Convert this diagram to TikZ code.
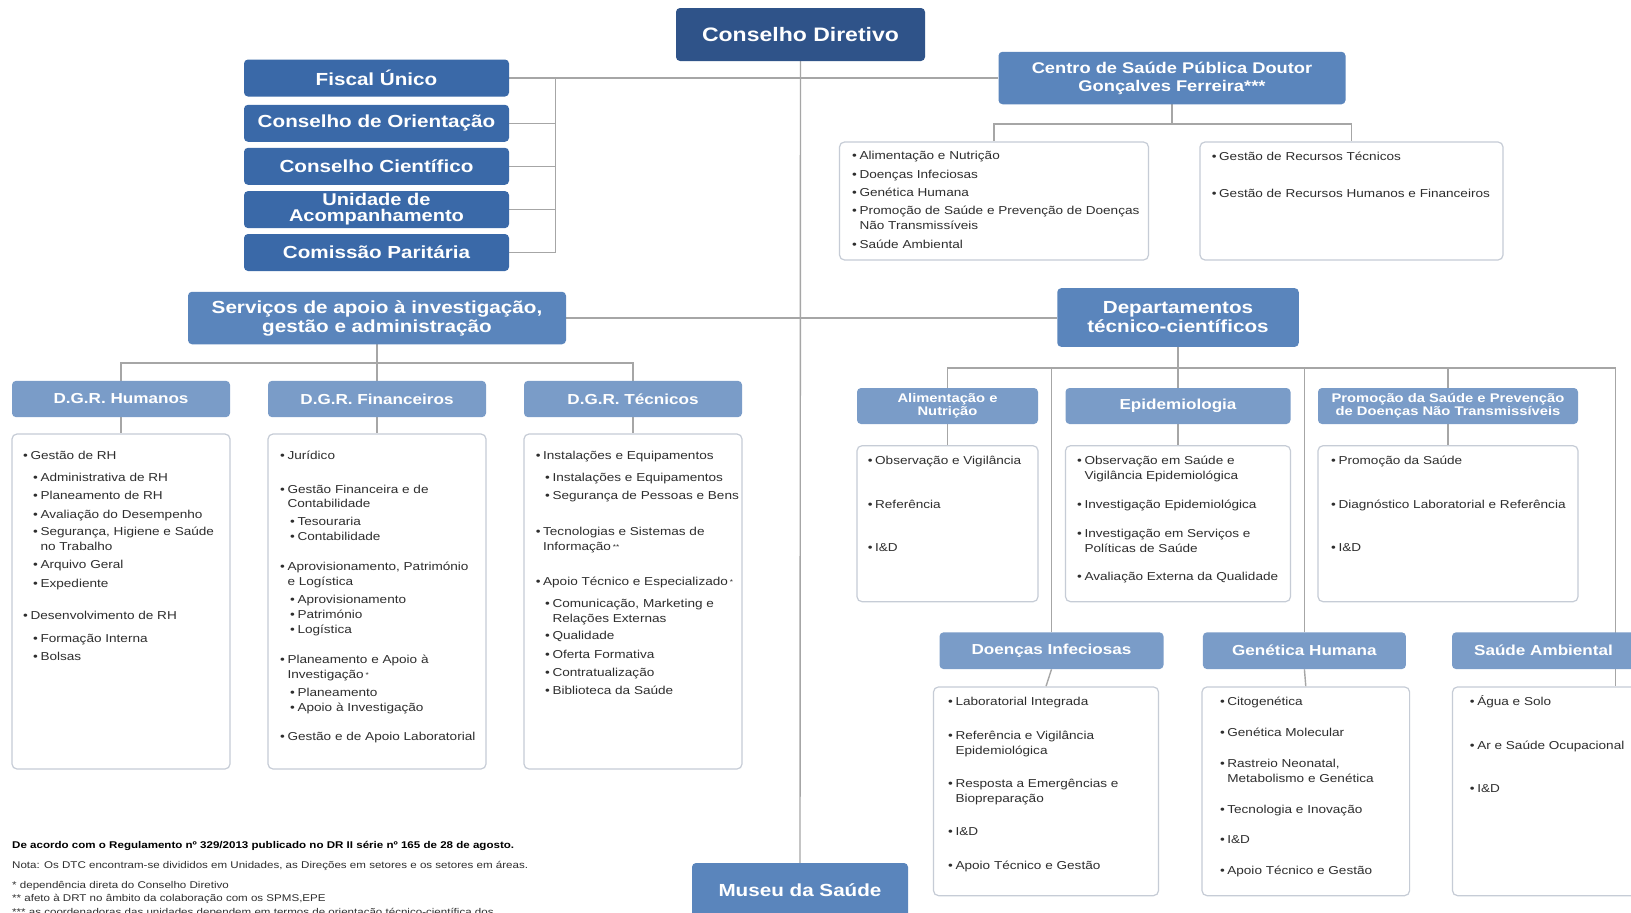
\documentclass[tikz,border=0pt]{standalone}
\usepackage{fontspec}
\setmainfont{Liberation Sans}[FakeStretch=1.18]
\usetikzlibrary{backgrounds}
\definecolor{cdark}{HTML}{2F5389}
\definecolor{cfis}{HTML}{3A69A8}
\definecolor{cmid}{HTML}{5A85BC}
\definecolor{clight}{HTML}{7A9CC8}
\definecolor{cbord}{HTML}{C6CCD6}
\definecolor{clin}{HTML}{A6A6A6}
\definecolor{ctext}{HTML}{2E2E2E}
\tikzset{
  hbox/.style={rounded corners=4pt, draw=none, text=white, align=center, inner sep=0pt},
  bdark/.style={hbox, fill=cdark},
  bfis/.style={hbox, fill=cfis, minimum width=265pt, minimum height=37pt, font=\bfseries\fontsize{17.5}{16}\selectfont},
  bmid/.style={hbox, fill=cmid},
  blight/.style={hbox, fill=clight},
  cbox/.style={rounded corners=5pt, draw=cbord, line width=1.2pt, fill=white, inner sep=0pt},
  conn/.style={draw=clin, line width=1.4pt},
  itm/.style={anchor=west, inner sep=0pt, text height=8.5pt, text depth=2.5pt, text=ctext, font=\fontsize{11.5}{13}\selectfont},
  fnote/.style={anchor=west, inner sep=0pt, text=ctext, font=\fontsize{9.8}{11}\selectfont},
}
\newcount\licnt
\newcommand\bli[3]{\global\advance\licnt by 1\relax\node[itm] (li\the\licnt) at (#1,#2) {•\hspace{2.6pt}#3};}
\newcommand\cli[3]{\global\advance\licnt by 1\relax\node[itm] (li\the\licnt) at (#1,#2) {\hphantom{•\hspace{2.6pt}}#3};}
\begin{document}
\begin{tikzpicture}[x=1pt,y=-1pt]
\useasboundingbox (0,0) rectangle (1631,913);
\begin{pgfonlayer}{background}
\fill[white] (0,0) rectangle (1631,913);
\end{pgfonlayer}

% ---------- top level ----------
\node[bdark, minimum width=249pt, minimum height=53pt, font=\bfseries\fontsize{19.5}{22}\selectfont] (cd) at (800.5,34.5) {Conselho Diretivo};

\node[bfis] (fu) at (376.5,78) {Fiscal Único};
\node[bfis] (co) at (376.5,123.3) {Conselho de Orientação};
\node[bfis] (cc) at (376.5,166.3) {Conselho Científico};
\node[bfis, font=\bfseries\fontsize{17}{16}\selectfont] (ua) at (376.5,209.6) {Unidade de\\Acompanhamento};
\node[bfis] (cp) at (376.5,252.5) {Comissão Paritária};

\node[bmid, minimum width=347pt, minimum height=52.5pt, font=\bfseries\fontsize{15.5}{18}\selectfont] (csp) at (1172,78) {Centro de Saúde Pública Doutor\\Gonçalves Ferreira***};
\node[cbox, minimum width=309pt, minimum height=118pt] (csl) at (994,201) {};
\node[cbox, minimum width=303pt, minimum height=118pt] (csr) at (1351.5,201) {};

\node[bmid, minimum width=378pt, minimum height=52.5pt, font=\bfseries\fontsize{17.5}{19}\selectfont] (sv) at (377,318) {Serviços de apoio à investigação,\\gestão e administração};
\node[bmid, minimum width=241.5pt, minimum height=58.7pt, font=\bfseries\fontsize{17.5}{19}\selectfont] (dtc) at (1178,317.5) {Departamentos\\técnico-científicos};

% ---------- D.G.R. ----------
\node[blight, minimum width=218pt, minimum height=36.3pt, font=\bfseries\fontsize{14.5}{16}\selectfont] (dgrh) at (121,399) {D.G.R. Humanos};
\node[blight, minimum width=218pt, minimum height=36.3pt, font=\bfseries\fontsize{14.5}{16}\selectfont] (dgrf) at (377,399) {D.G.R. Financeiros};
\node[blight, minimum width=218pt, minimum height=36.3pt, font=\bfseries\fontsize{14.5}{16}\selectfont] (dgrt) at (633,399) {D.G.R. Técnicos};
\node[cbox, minimum width=218pt, minimum height=335pt] (dgrhc) at (121,601.5) {};
\node[cbox, minimum width=218pt, minimum height=335pt] (dgrfc) at (377,601.5) {};
\node[cbox, minimum width=218pt, minimum height=335pt] (dgrtc) at (633,601.5) {};

% ---------- departments ----------
\node[blight, minimum width=181pt, minimum height=36pt, font=\bfseries\fontsize{12.5}{13}\selectfont] (an) at (947.5,406) {Alimentação e\\Nutrição};
\node[blight, minimum width=225pt, minimum height=36pt, font=\bfseries\fontsize{14.5}{16}\selectfont] (epi) at (1178,406) {Epidemiologia};
\node[blight, minimum width=260pt, minimum height=36pt, font=\bfseries\fontsize{12.5}{13}\selectfont] (prom) at (1448,406) {Promoção da Saúde e Prevenção\\de Doenças Não Transmissíveis};
\node[cbox, minimum width=181pt, minimum height=156pt] (anc) at (947.5,523.7) {};
\node[cbox, minimum width=225pt, minimum height=156pt] (epic) at (1178,523.7) {};
\node[cbox, minimum width=260pt, minimum height=156pt] (promc) at (1448,523.7) {};

\node[blight, minimum width=224pt, minimum height=36.7pt, font=\bfseries\fontsize{14.5}{16}\selectfont] (di) at (1051.5,650.7) {Doenças Infeciosas};
\node[blight, minimum width=203pt, minimum height=36.7pt, font=\bfseries\fontsize{14.5}{16}\selectfont] (gh) at (1304.4,650.7) {Genética Humana};
\node[blight, minimum width=183pt, minimum height=36.7pt, font=\bfseries\fontsize{14.5}{16}\selectfont] (sa) at (1543.5,650.7) {Saúde Ambiental};
\node[cbox, minimum width=225pt, minimum height=208.7pt] (dic) at (1046,791.3) {};
\node[cbox, minimum width=207.6pt, minimum height=208.7pt] (ghc) at (1305.8,791.3) {};
\node[cbox, minimum width=207pt, minimum height=208.7pt] (sac) at (1556,791.3) {};

\node[bmid, minimum width=216pt, minimum height=54pt, font=\bfseries\fontsize{17.5}{19}\selectfont] (museu) at (800,890) {Museu da Saúde};

% ---------- connectors ----------
\begin{pgfonlayer}{background}
\draw[conn] (cd.south) -- (museu.north);
\draw[conn] (fu.east) -- (csp.west);
\coordinate (bk1) at (555.4,78);
\coordinate (bk2) at (555.4,252.5);
\draw[conn] (bk1) -- (bk2);
\draw[conn] (co.east) -- (co.east -| bk1);
\draw[conn] (cc.east) -- (cc.east -| bk1);
\draw[conn] (ua.east) -- (ua.east -| bk1);
\draw[conn] (cp.east) -- (cp.east -| bk1);
\draw[conn] (sv.east) -- (sv.east -| dtc.west);
\coordinate (cspj) at (1172,124);
\draw[conn] (csp.south) -- (cspj);
\draw[conn] (csl.north) |- (cspj) -| (csr.north);
\coordinate (svj) at (377,363);
\draw[conn] (sv.south) -- (svj);
\draw[conn] (dgrh.north) |- (svj) -| (dgrt.north);
\draw[conn] (svj) -- (dgrf.north);
\draw[conn] (dgrh.south) -- (dgrhc.north);
\draw[conn] (dgrf.south) -- (dgrfc.north);
\draw[conn] (dgrt.south) -- (dgrtc.north);
\coordinate (dj) at (1178,368);
\coordinate (dr) at (1615.6,368);
\draw[conn] (dtc.south) -- (epi.north);
\draw[conn] (an.north) |- (dj) -- (dr) -- (dr |- sac.north);
\draw[conn] (di.north) -- (di.north |- dj);
\draw[conn] (gh.north) -- (gh.north |- dj);
\draw[conn] (prom.north) -- (prom.north |- dj);
\draw[conn] (an.south) -- (anc.north);
\draw[conn] (epi.south) -- (epic.north);
\draw[conn] (prom.south) -- (promc.north);
\draw[conn] (di.south) -- (dic.north);
\draw[conn] (gh.south) -- (ghc.north);
\end{pgfonlayer}

% ---------- Centro contents ----------
\bli{852}{156.7}{Alimentação e Nutrição}
\bli{852}{175}{Doenças Infeciosas}
\bli{852}{193.3}{Genética Humana}
\bli{852}{211.7}{Promoção de Saúde e Prevenção de Doenças}
\cli{852}{226.7}{Não Transmissíveis}
\bli{852}{245}{Saúde Ambiental}
\bli{1211.6}{157.3}{Gestão de Recursos Técnicos}
\bli{1211.6}{194}{Gestão de Recursos Humanos e Financeiros}

% ---------- D.G.R. Humanos ----------
\bli{23}{456.7}{Gestão de RH}
\bli{33}{478.7}{Administrativa de RH}
\bli{33}{496.7}{Planeamento de RH}
\bli{33}{515}{Avaliação do Desempenho}
\bli{33}{532.7}{Segurança, Higiene e Saúde}
\cli{33}{547.7}{no Trabalho}
\bli{33}{565.7}{Arquivo Geral}
\bli{33}{584}{Expediente}
\bli{23}{616.7}{Desenvolvimento de RH}
\bli{33}{639}{Formação Interna}
\bli{33}{657}{Bolsas}

% ---------- D.G.R. Financeiros ----------
\bli{280}{456}{Jurídico}
\bli{280}{490}{Gestão Financeira e de}
\cli{280}{504}{Contabilidade}
\bli{290}{522}{Tesouraria}
\bli{290}{537.7}{Contabilidade}
\bli{280}{567}{Aprovisionamento, Património}
\cli{280}{582}{e Logística}
\bli{290}{600.7}{Aprovisionamento}
\bli{290}{615}{Património}
\bli{290}{630.7}{Logística}
\bli{280}{660}{Planeamento e Apoio à}
\cli{280}{675}{Investigação\,\raisebox{1pt}{\fontsize{7}{7}\selectfont*}}
\bli{290}{693}{Planeamento}
\bli{290}{708}{Apoio à Investigação}
\bli{280}{737.7}{Gestão e de Apoio Laboratorial}

% ---------- D.G.R. Técnicos ----------
\bli{535.6}{456.7}{Instalações e Equipamentos}
\bli{545}{478}{Instalações e Equipamentos}
\bli{545}{496.7}{Segurança de Pessoas e Bens}
\bli{535.6}{532.7}{Tecnologias e Sistemas de}
\cli{535.6}{547.7}{Informação\,\raisebox{1pt}{\fontsize{7}{7}\selectfont**}}
\bli{535.6}{582.7}{Apoio Técnico e Especializado\,\raisebox{1pt}{\fontsize{7}{7}\selectfont*}}
\bli{545}{604}{Comunicação, Marketing e}
\cli{545}{619}{Relações Externas}
\bli{545}{636.7}{Qualidade}
\bli{545}{655}{Oferta Formativa}
\bli{545}{673}{Contratualização}
\bli{545}{691}{Biblioteca da Saúde}

% ---------- Alimentação / Epidemiologia / Promoção ----------
\bli{867.6}{461.7}{Observação e Vigilância}
\bli{867.6}{505}{Referência}
\bli{867.6}{548.3}{I\&D}
\bli{1077}{461.7}{Observação em Saúde e}
\cli{1077}{476.7}{Vigilância Epidemiológica}
\bli{1077}{505.7}{Investigação Epidemiológica}
\bli{1077}{534.3}{Investigação em Serviços e}
\cli{1077}{549.3}{Políticas de Saúde}
\bli{1077}{577.7}{Avaliação Externa da Qualidade}
\bli{1331}{461.7}{Promoção da Saúde}
\bli{1331}{505}{Diagnóstico Laboratorial e Referência}
\bli{1331}{548.3}{I\&D}

% ---------- Doenças / Genética / Saúde Ambiental ----------
\bli{948}{702.7}{Laboratorial Integrada}
\bli{948}{736}{Referência e Vigilância}
\cli{948}{751}{Epidemiológica}
\bli{948}{784.3}{Resposta a Emergências e}
\cli{948}{799.3}{Biopreparação}
\bli{948}{832.7}{I\&D}
\bli{948}{866}{Apoio Técnico e Gestão}
\bli{1219.8}{702.7}{Citogenética}
\bli{1219.8}{733.3}{Genética Molecular}
\bli{1219.8}{764}{Rastreio Neonatal,}
\cli{1219.8}{779}{Metabolismo e Genética}
\bli{1219.8}{810}{Tecnologia e Inovação}
\bli{1219.8}{840}{I\&D}
\bli{1219.8}{871}{Apoio Técnico e Gestão}
\bli{1469.7}{702.7}{Água e Solo}
\bli{1469.7}{746}{Ar e Saúde Ocupacional}
\bli{1469.7}{789.3}{I\&D}

% ---------- footnotes ----------
\node[fnote, font=\bfseries\fontsize{9.8}{11}\selectfont, text=black] (fn1) at (12,846) {De acordo com o Regulamento nº 329/2013 publicado no DR II série nº 165 de 28 de agosto.};
\node[fnote] (fn2) at (12,866) {Nota: Os DTC encontram-se divididos em Unidades, as Direções em setores e os setores em áreas.};
\node[fnote] (fn3) at (12,886) {* dependência direta do Conselho Diretivo};
\node[fnote] (fn4) at (12,899) {** afeto à DRT no âmbito da colaboração com os SPMS,EPE};
\node[fnote] (fn5) at (12,912.5) {*** as coordenadoras das unidades dependem em termos de orientação técnico-científica dos};
\end{tikzpicture}
\end{document}
